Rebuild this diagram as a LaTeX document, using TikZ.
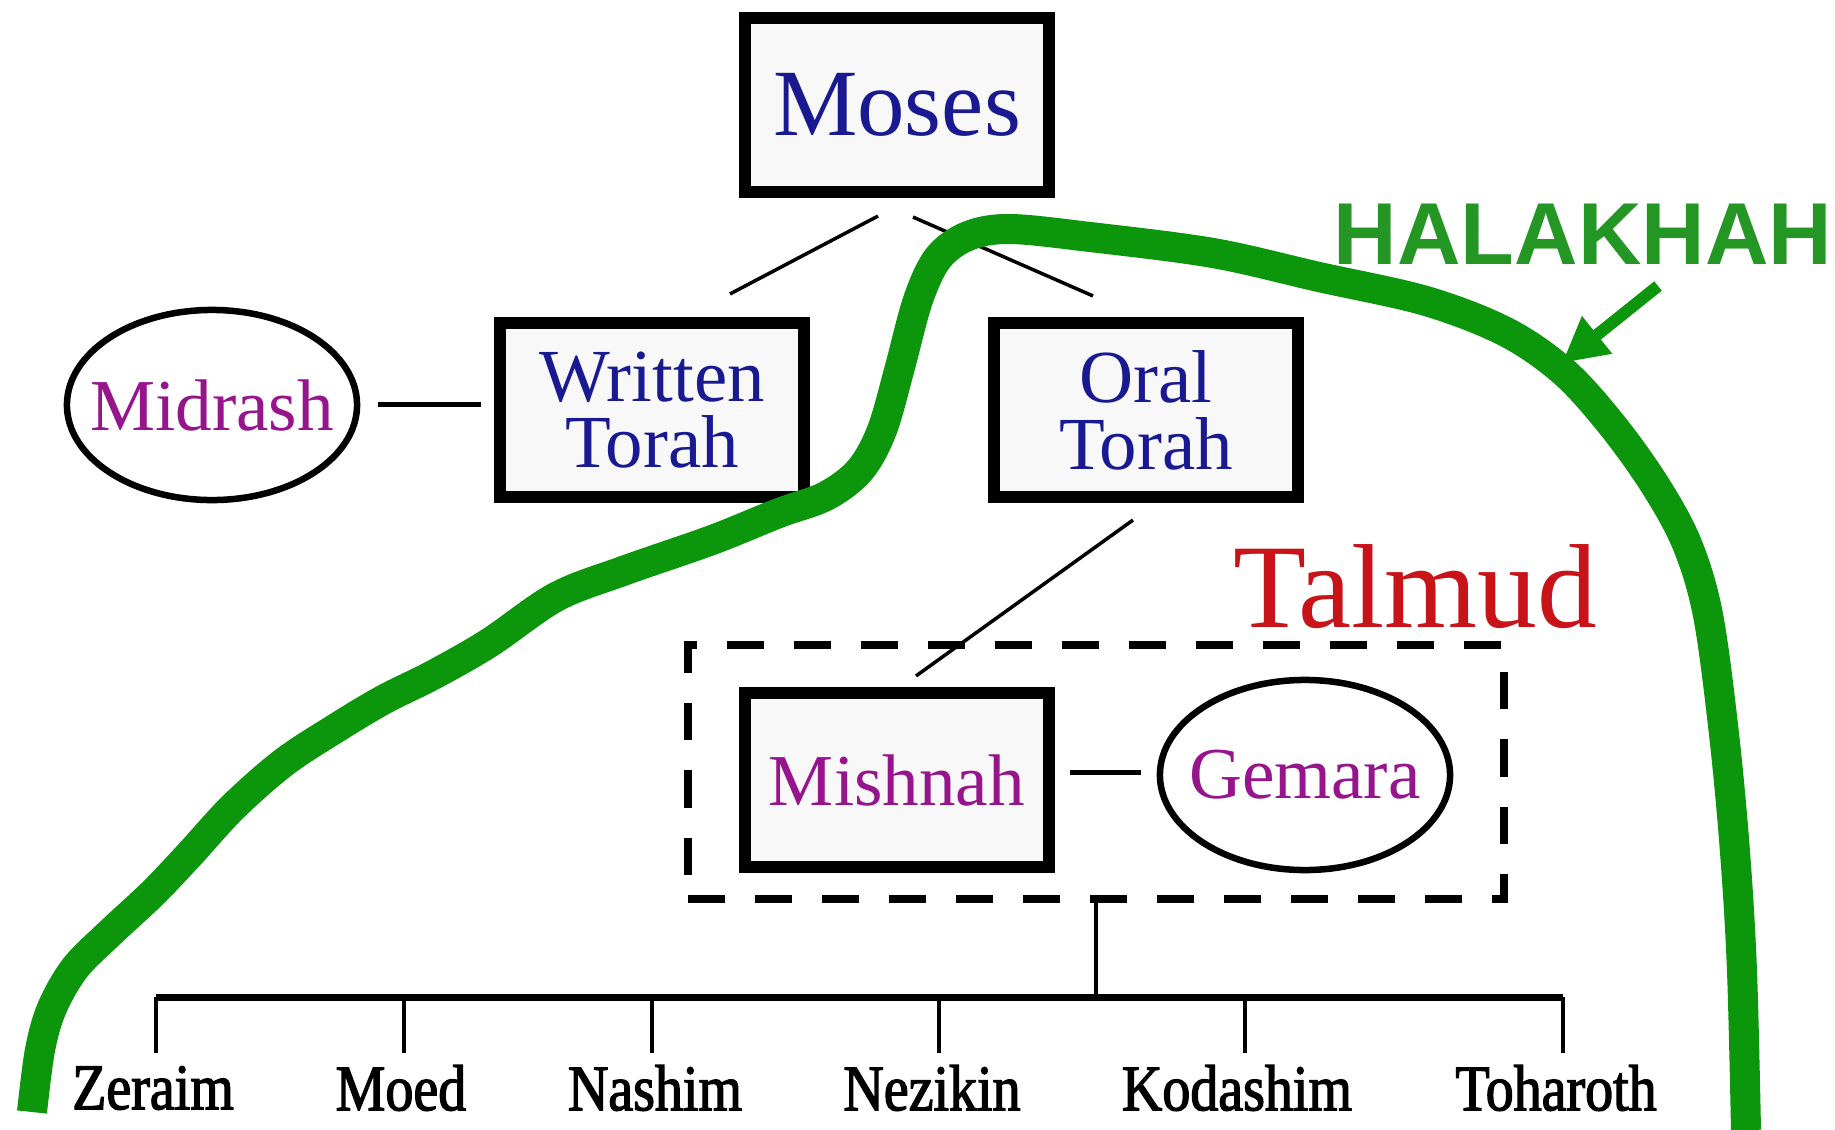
\documentclass[tikz,border=0pt]{standalone}
\usepackage{fontspec}
\setmainfont{Liberation Serif}
\newfontfamily\halfont{Liberation Sans}
\newfontfamily\labfont[FakeStretch=0.86,FakeBold=2.0]{Liberation Serif}
\usetikzlibrary{shapes.geometric,arrows.meta,calc}
\definecolor{navy}{RGB}{25,25,145}
\definecolor{mag}{RGB}{150,20,140}
\definecolor{talred}{RGB}{200,20,25}
\definecolor{curvegreen}{RGB}{12,150,12}
\definecolor{halgreen}{RGB}{35,150,35}
\definecolor{boxfill}{RGB}{248,248,248}
\begin{document}
\begin{tikzpicture}[x=0.01cm,y=-0.01cm,
  box/.style={draw=black, line width=0.12cm, fill=boxfill, minimum width=3.04cm, minimum height=1.74cm, inner sep=0pt, outer sep=0pt, align=center},
  oval/.style={ellipse, draw=black, line width=0.065cm, fill=white, minimum width=2.9cm, minimum height=1.9cm, inner xsep=-0.2cm, inner ysep=0pt, outer sep=0pt, text=mag, font=\fontsize{20.8}{24}\selectfont},
  torahtext/.style={text=navy, font=\fontsize{21.3}{19}\selectfont},
  conn/.style={line width=0.035cm},
  talbox/.style={draw=black, line width=0.08cm, dash pattern=on 0.37cm off 0.30cm, minimum width=8.16cm, minimum height=2.53cm, inner sep=0pt, outer sep=0pt},
  lab/.style={font=\labfont\fontsize{18.5}{22}\selectfont, text=black, inner sep=0pt},
  drop/.style={line width=0.035cm}]
\useasboundingbox (0,0) rectangle (1835,1130);
\fill[white] (0,0) rectangle (1835,1130);

% main nodes
\node[box, text=navy, font=\fontsize{27}{30}\selectfont] (M) at (897,105) {Moses};
\node[box, torahtext] (WT) at (652,410) {Written\\Torah};
\node[box, torahtext] (OT) at (1146,410) {Oral\\Torah};
\node[oval] (MID) at (212,405) {Midrash};
\node[talbox] (TB) at (1096,772) {};
\node[box, text=mag, font=\fontsize{20.8}{24}\selectfont] (MI) at (897,780) {Mishnah};
\node[oval] (GE) at (1305,775) {Gemara};
\node[text=talred, font=\fontsize{34}{40}\selectfont, inner sep=0pt] (TAL) at (1415,587) {Talmud};

% connectors
\draw[conn] ($(M.south)+(-19,24)$) -- ($(WT.north)+(78,-29)$);
\draw[conn] ($(M.south)+(16,25)$) -- ($(OT.north)+(-53,-27)$);
\draw[conn] ($(OT.south)+(-13,23)$) -- ($(MI.north)+(19,-17)$);
\draw[line width=0.05cm] ($(MID.east)+(21,-1)$) -- ($(WT.west)+(-19,-6)$);
\draw[line width=0.05cm] ($(MI.east)+(21,-8)$) -- ($(GE.west)+(-19,-3)$);

% orders of the Mishnah
\coordinate (barL) at (156,997);
\coordinate (barR) at (1563,997);
\draw[line width=0.04cm] (TB.south) -- (TB.south |- barL);
\draw[line width=0.07cm] (barL) -- (barR);

\node[lab] (L1) at (153,1088) {Zeraim};
\node[lab] (L2) at (401,1088) {Moed};
\node[lab] (L3) at (655,1088) {Nashim};
\node[lab] (L4) at (932,1088) {Nezikin};
\node[lab] (L5) at (1237,1088) {Kodashim};
\node[lab] (L6) at (1556,1088) {Toharoth};

\coordinate (d1) at (156,997);
\coordinate (d2) at (404,997);
\coordinate (d3) at (652,997);
\coordinate (d4) at (939,997);
\coordinate (d5) at (1245,997);
\coordinate (d6) at (1563,997);
\foreach \d in {d1,d2,d3,d4,d5,d6}
  \draw[drop] (\d) -- ++(0,56);

% halakhah curve
\draw[curvegreen, line width=0.3cm, line join=round] plot[smooth, tension=0.55] coordinates {
  (32,1112) (40,1050) (52,1008) (75,968) (110,933) (153,893) (190,854)
  (233,807) (283,763) (333,730) (383,700) (433,675) (489,643) (556,597)
  (623,571) (712,540) (779,513) (826,496) (860,470) (882,430) (900,367)
  (918,300) (938,258) (968,236) (1010,229) (1090,237) (1213,253)
  (1319,277) (1426,301) (1506,332) (1564,372) (1612,425) (1655,485)
  (1687,544) (1708,615) (1724,734) (1735,852) (1742,971) (1746,1130)};

\node[font=\halfont\bfseries\fontsize{25}{30}\selectfont, text=halgreen, inner sep=0pt] (H) at (1583,234) {HALAKHAH};
\coordinate (a1) at (1658,286);
\coordinate (a2) at (1562,363);
\draw[curvegreen, line width=0.12cm, -{Triangle[length=0.45cm,width=0.45cm]}] (a1) -- (a2);
\end{tikzpicture}
\end{document}
